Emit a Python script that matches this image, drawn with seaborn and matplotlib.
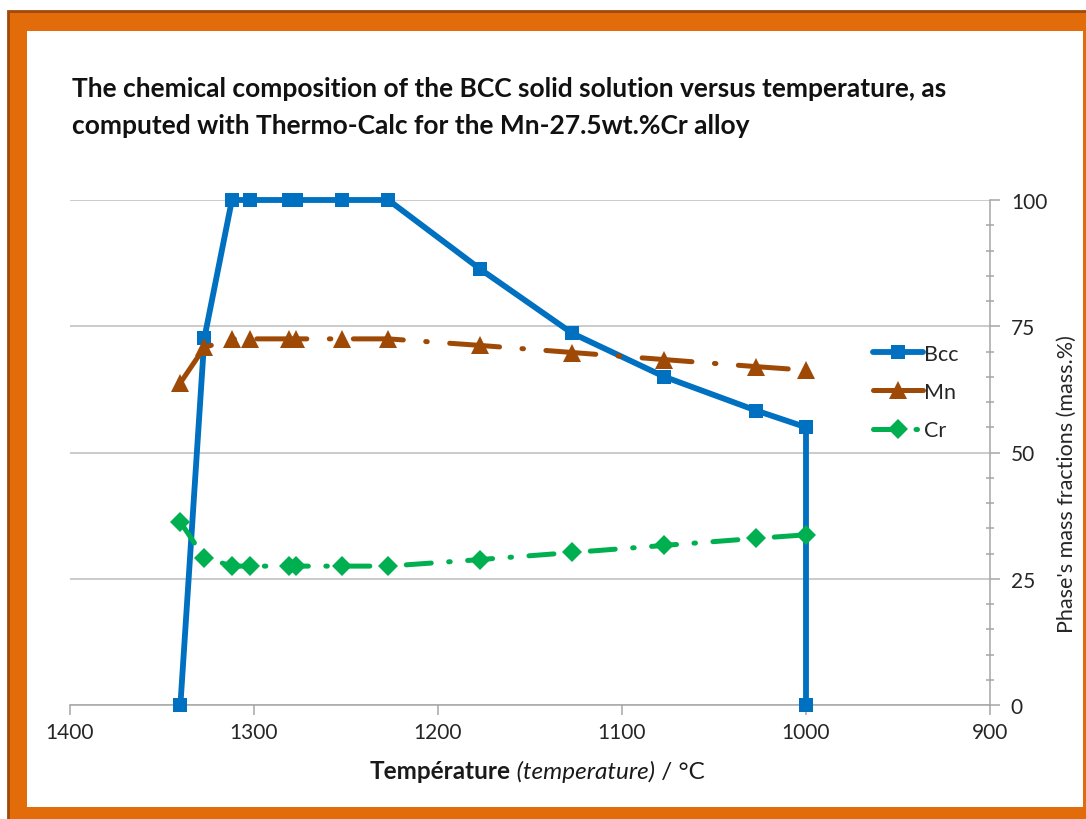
import numpy as np
import pandas as pd
import matplotlib
matplotlib.use("Agg")
import matplotlib.pyplot as plt
import seaborn as sns
from matplotlib.patches import Rectangle
from matplotlib.offsetbox import TextArea, HPacker, AnchoredOffsetbox
from matplotlib.ticker import MultipleLocator

# temperatures (°C)
temps = [1340, 1327, 1312, 1302, 1281, 1277, 1252, 1227, 1177, 1127, 1077, 1027, 1000]
bcc_temps = temps + [1000]
bcc = [0, 72.6, 100, 100, 100, 100, 100, 100, 86.3, 73.6, 65.0, 58.3, 55.0, 0]
mn = [63.8, 70.8, 72.5, 72.5, 72.5, 72.5, 72.5, 72.5, 71.2, 69.8, 68.4, 67.0, 66.3]
cr = [36.2, 29.2, 27.5, 27.5, 27.5, 27.5, 27.5, 27.5, 28.8, 30.2, 31.6, 33.0, 33.7]

title_lines = ["The chemical composition of the BCC solid solution versus temperature, as",
               "computed with Thermo-Calc for the Mn-27.5wt.%Cr alloy"]

sns.set_style("white")
plt.rcParams['font.family'] = ['Lato', 'DejaVu Sans']

fig = plt.figure(figsize=(10.86, 8.2), dpi=100)
fig.patch.set_facecolor("white")

# orange frame
fig.patches.append(Rectangle((8 / 1086, -0.1), 1.2, 1 - 12 / 820 + 0.1, transform=fig.transFigure,
                             facecolor="#E36C0A", edgecolor="#A0490A", linewidth=2, zorder=-10))
fig.patches.append(Rectangle((27 / 1086, 12 / 820), (1083 - 27) / 1086, (808 - 32) / 820,
                             transform=fig.transFigure, facecolor="white", edgecolor="none", zorder=-9))

ax = fig.add_axes([70 / 1086, 1 - 706 / 820, 920 / 1086, 505 / 820])
ax.set_facecolor("none")

sns.lineplot(x=bcc_temps, y=bcc, ax=ax, estimator=None, sort=False, color="#0070C0",
             linewidth=4.2, marker="s", markersize=10, markeredgewidth=0,
             markeredgecolor="#0070C0", label="Bcc", zorder=3, clip_on=False)
sns.lineplot(x=temps, y=mn, ax=ax, estimator=None, sort=False, color="#9E4A06",
             linewidth=3.6, linestyle=(0, (10, 4.5, 0.3, 4.5)), dash_capstyle="round",
             marker="^", markersize=13, markeredgewidth=0, markeredgecolor="#9E4A06",
             label="Mn", zorder=4, clip_on=False)
sns.lineplot(x=temps, y=cr, ax=ax, estimator=None, sort=False, color="#00B050",
             linewidth=3.6, linestyle=(0, (5, 3.5, 0.3, 3.5)), dash_capstyle="round",
             marker="D", markersize=10, markeredgewidth=0, markeredgecolor="#00B050",
             label="Cr", zorder=5, clip_on=False)

ax.set_xlim(1400, 900)
ax.set_ylim(0, 100)
ax.xaxis.set_major_locator(MultipleLocator(100))
ax.yaxis.set_major_locator(MultipleLocator(25))
ax.yaxis.set_minor_locator(MultipleLocator(5))
ax.yaxis.tick_right()
ax.yaxis.set_label_position("right")
ax.grid(axis="y", color="#BDBDBD", linewidth=1.1)
ax.grid(axis="x", visible=False)
for s in ["left", "top"]:
    ax.spines[s].set_visible(False)
for s in ["right", "bottom"]:
    ax.spines[s].set_color("#A6A6A6")
    ax.spines[s].set_linewidth(1.1)
ax.tick_params(axis="y", which="major", direction="out", length=7, width=1.1, color="#A6A6A6",
               labelsize=15, labelcolor="#262626", pad=8, right=True, left=False)
ax.tick_params(axis="y", which="minor", direction="inout", length=6, width=1.1, color="#A6A6A6",
               right=True, left=False)
ax.tick_params(axis="x", which="major", direction="out", length=7, width=1.1, color="#A6A6A6",
               labelsize=15, labelcolor="#262626", pad=5, bottom=True)
ax.set_xlabel("")
ax.set_ylabel("Phase's mass fractions (mass.%)", fontsize=15.5, color="#262626")
ax.yaxis.set_label_coords(1.073, 0.44)

leg = ax.legend(loc="center left", bbox_to_anchor=(0.852, 0.62), frameon=False, fontsize=15.5,
                handlelength=2.3, handletextpad=0.05, labelspacing=0.85, numpoints=1)

# x label with mixed styles
lab_kw = dict(fontsize=17.5, color="#1a1a1a")
parts = [TextArea("Température", textprops=dict(fontweight="bold", **lab_kw)),
         TextArea(" (temperature)", textprops=dict(fontstyle="italic", **lab_kw)),
         TextArea(" / °C", textprops=lab_kw)]
box = HPacker(children=parts, align="baseline", pad=0, sep=0)
anch = AnchoredOffsetbox(loc="upper center", child=box, pad=0, frameon=False,
                         bbox_to_anchor=(0.508, -0.107), bbox_transform=ax.transAxes, borderpad=0)
ax.add_artist(anch)

fig.text(72 / 1086, 1 - 97 / 820, title_lines[0], fontsize=19, fontweight="bold", color="#111111",
         va="baseline", ha="left")
fig.text(72 / 1086, 1 - 134 / 820, title_lines[1], fontsize=19, fontweight="bold", color="#111111",
         va="baseline", ha="left")

fig.savefig("out.png", dpi=100)
